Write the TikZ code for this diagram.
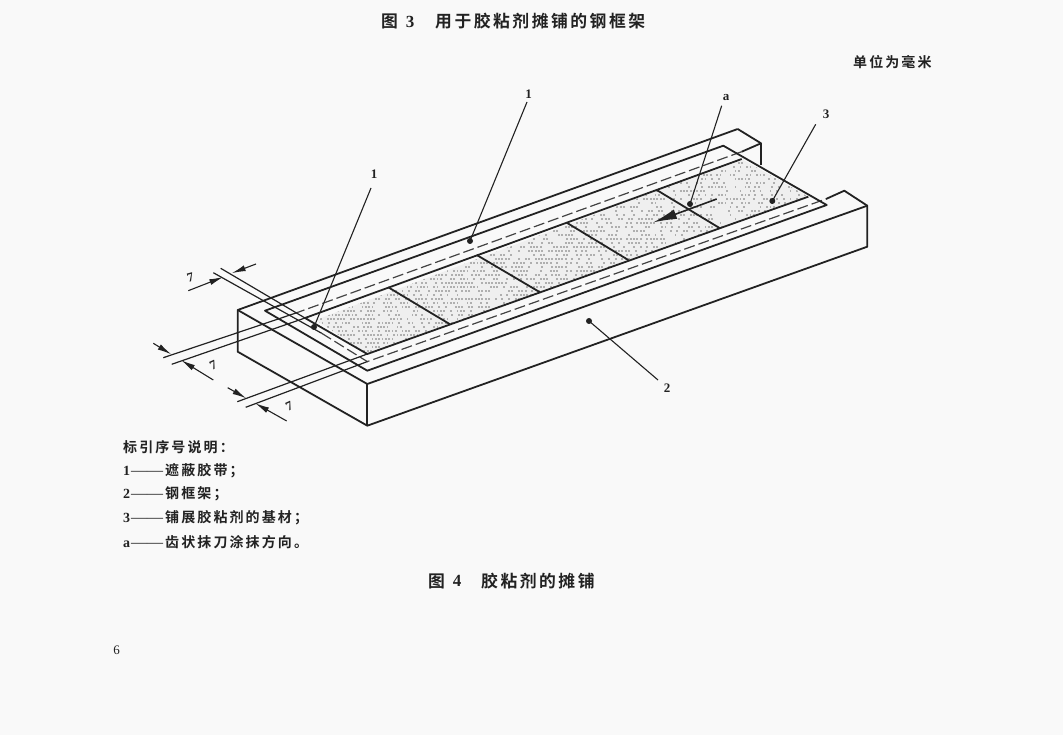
\documentclass[tikz,border=0pt]{standalone}
\usepackage{fontspec}
\usetikzlibrary{arrows.meta}
\setmainfont{Liberation Serif}
\newfontfamily\cjkb[LetterSpace=15]{Noto Sans CJK SC Bold}
\newfontfamily\cjkt[LetterSpace=15]{Noto Sans CJK SC Bold}
\definecolor{ink}{HTML}{222222}
\definecolor{paper}{HTML}{F9F9F9}
\tikzset{
  x=1pt,y=-1pt,
  edge/.style={draw=ink,line width=1.8pt,line join=round},
  hidden/.style={draw=ink!85,line width=1.2pt,dash pattern=on 11pt off 4pt},
  leader/.style={draw=ink,line width=1.1pt},
  ext/.style={draw=ink,line width=1.2pt},
  dim/.style={draw=ink,line width=1.1pt,-{Latex[length=14pt,width=6pt]}},
  dot/.style={circle,fill=ink,inner sep=0pt,minimum size=6pt},
  num/.style={text=ink,font=\fontsize{13}{13}\selectfont\bfseries,inner sep=0pt},
  leg/.style={text=ink,anchor=west,inner sep=0pt,font=\fontsize{14}{15}\selectfont\cjkb},
  ttl/.style={text=ink,inner sep=0pt,font=\fontsize{16.8}{17}\selectfont\cjkt},
  ttld/.style={text=ink,inner sep=0pt,font=\fontsize{17}{17}\selectfont\rmfamily\bfseries},
}
\newcommand{\legdash}[2]{\makebox[42pt][l]{\fontsize{14}{15}\selectfont\rmfamily\bfseries #1\hspace{1pt}\fontsize{16}{15}\selectfont\mdseries #2}}
\begin{document}
\begin{tikzpicture}
\fill[paper] (0,0) rectangle (1063,735);
\useasboundingbox (0,0) rectangle (1063,735);
% stipple on the base material
\begin{scope}
\clip (316,320) -- (367.3,354) -- (808.3,196.7) -- (741.7,159) -- cycle;
\fill[ink!7] (300,150) rectangle (820,360);
\pgfmathsetseed{4}
\foreach \r in {0,...,49}{
  \foreach \c in {0,...,150}{
    \pgfmathsetmacro{\px}{310+\c*3.33+mod(\r,2)*1.6}
    \pgfmathsetmacro{\py}{158+\r*4}
    \pgfmathsetmacro{\keep}{rnd<(0.72-0.0006*(\px-310))?1:0}
    \ifnum\keep=1\relax
      \fill[ink!36] (\px,\py) rectangle +(1.9,1.7);
    \fi
  }
}
\end{scope}
% steel frame
\draw[edge] (737.7,129) -- (237.7,310) -- (237.7,351.7) -- (367.3,425.7) -- (867.3,246.7) -- (867.3,205.7) -- (844.3,190.7) -- (826,199);
\draw[edge] (237.7,310) -- (367.3,384) -- (867.3,205.7);
\draw[edge] (367.3,384) -- (367.3,425.7);
\draw[edge] (737.7,129) -- (761,143.3) -- (761,165);
\draw[edge] (761,143.3) -- (741.7,151.7);
% hidden edge of the frame
\coordinate (hb) at (741.7,151.7);
\coordinate (hl) at (296,313);
\coordinate (hm) at (321.7,333.3);
\coordinate (hf) at (367.3,361.6);
\coordinate (hr) at (826,199);
\draw[hidden] (hb) -- (hl);
\draw[hidden] (hm) -- (hf) -- (hr);
% sheet
\draw[edge] (723.3,145.7) -- (265,310.7) -- (367.3,370.7) -- (826.7,205) -- cycle;
% base material
\coordinate (bl) at (305,318);
\coordinate (bf) at (367.3,354);
\draw[edge] (741.7,159) -- (bl) -- (bf) -- (808.3,196.7);
\draw[edge] (388.3,287.3) -- (450,324.3);
\draw[edge] (476.7,255) -- (540,292.3);
\draw[edge] (566.7,222.7) -- (628.3,260);
\draw[edge] (656.7,190) -- (720,228.3);
% direction arrow
\coordinate (arrowtail) at (716.7,199);
\coordinate (arrowtip) at (653,222.5);
\draw[draw=ink,line width=1.6pt,-{Latex[length=24pt,width=10pt]}] (arrowtail) -- (arrowtip);
% leaders
\node[num] (n1a) at (528.5,94) {1};
\node[num] (n1b) at (374,174) {1};
\node[num] (na) at (726,98) {a};
\node[num] (n3) at (826,114) {3};
\node[num] (n2) at (667,388) {2};
\node[dot] (d1a) at (470,241) {};
\node[dot] (d1b) at (314,327) {};
\node[dot] (da) at (690,204) {};
\node[dot] (d3) at (772.3,201) {};
\node[dot] (d2) at (589,321) {};
\coordinate (l1a) at (527,102);
\coordinate (l1b) at (371,188);
\coordinate (la) at (721.7,105.7);
\coordinate (l3) at (815.7,124.3);
\coordinate (l2) at (658,380);
\draw[leader] (l1a) -- (d1a.center);
\draw[leader] (l1b) -- (d1b.center);
\draw[leader] (la) -- (da.center);
\draw[leader] (l3) -- (d3.center);
\draw[leader] (l2) -- (d2.center);
% dimensions
\coordinate (e1a) at (213.3,272.7);
\coordinate (e2a) at (220.7,268.3);
\draw[ext] (e1a) -- (hm);
\draw[ext] (e2a) -- (bl);
\coordinate (c1a) at (223.3,277); \coordinate (c1b) at (231.7,273.2);
\coordinate (o1a) at (188.3,290.7); \coordinate (o1b) at (256,264);
\draw[dim] (o1a) -- (c1a);
\draw[dim] (o1b) -- (c1b);
\node[num,rotate=15] (t1) at (190.5,277.5) {7};
\coordinate (e3a) at (163.3,357.7);
\coordinate (e4a) at (171.7,364.3);
\draw[ext] (e3a) -- (hl);
\draw[ext] (e4a) -- (bl);
\coordinate (c3a) at (171.3,354.3); \coordinate (c3b) at (181.3,360.3);
\coordinate (o3a) at (153.3,343.3); \coordinate (o3b) at (213.3,380);
\draw[dim] (o3a) -- (c3a);
\draw[dim] (o3b) -- (c3b);
\node[num,rotate=25] (t3) at (213.3,365) {7};
\coordinate (e5a) at (237.3,401.7);
\coordinate (e6a) at (245.7,407.3);
\draw[ext] (e5a) -- (bf);
\draw[ext] (e6a) -- (hf);
\coordinate (c5a) at (246.3,398.3); \coordinate (c5b) at (255.3,403.3);
\coordinate (o5a) at (227.7,387.7); \coordinate (o5b) at (286.7,421);
\draw[dim] (o5a) -- (c5a);
\draw[dim] (o5b) -- (c5b);
\node[num,rotate=25] (t5) at (289.3,406) {7};
% texts
\node[ttl,anchor=west] (title3a) at (381,21.5) {图};
\node[ttld] (title3n) at (410,21.5) {3};
\node[ttl,anchor=west] (title3b) at (435,21.5) {用于胶粘剂摊铺的钢框架};
\node[leg] (unit) at (853,62) {单位为毫米};
\node[leg] (lg0) at (123,447) {标引序号说明：};
\node[leg] (lg1) at (123,470.5) {\legdash{1}{——}遮蔽胶带；};
\node[leg] (lg2) at (123,494) {\legdash{2}{——}钢框架；};
\node[leg] (lg3) at (123,518) {\legdash{3}{——}铺展胶粘剂的基材；};
\node[leg] (lg4) at (123,542) {\legdash{a}{——}齿状抹刀涂抹方向。};
\node[ttl,anchor=west] (title4a) at (428,581) {图};
\node[ttld] (title4n) at (457,581) {4};
\node[ttl,anchor=west] (title4b) at (481,581) {胶粘剂的摊铺};
\node[text=ink,inner sep=0pt,font=\fontsize{13}{13}\selectfont] (page) at (116.5,650) {6};
\end{tikzpicture}
\end{document}
